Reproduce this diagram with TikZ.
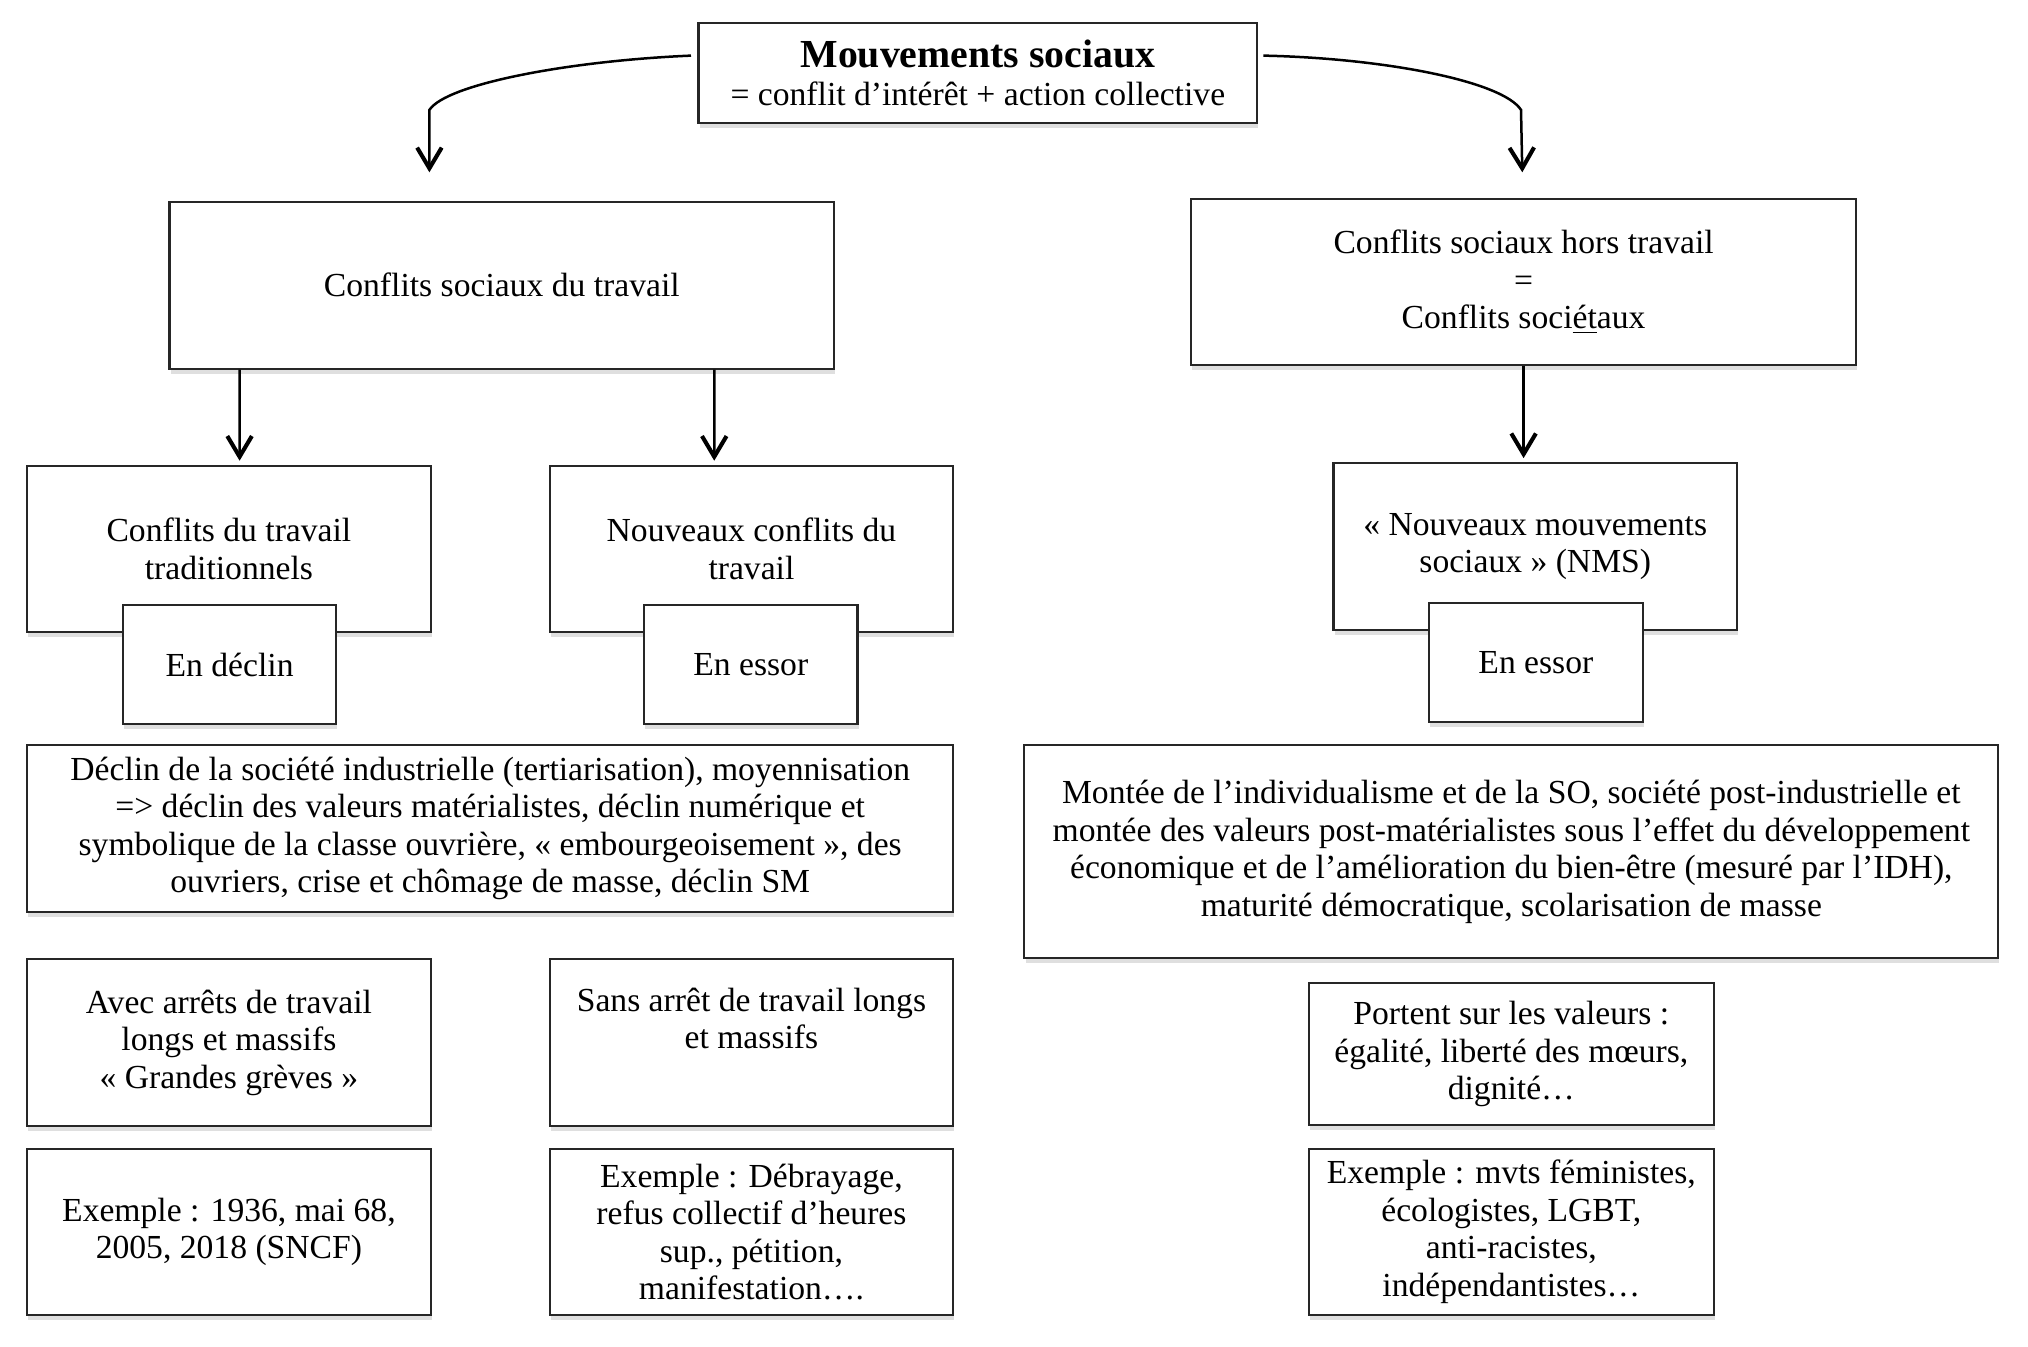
\documentclass[tikz,border=0pt]{standalone}
\usepackage{fontspec}
\setmainfont{Liberation Serif}
\usetikzlibrary{calc,arrows.meta,shadows}
\definecolor{boxline}{HTML}{262626}

\begin{document}
\begin{tikzpicture}[x=0.02cm, y=-0.02cm,
    >={Straight Barb[length=3.2mm, width=3.8mm, line width=1.8pt]},
    box/.style={draw=boxline, line width=0.9pt, fill=white, align=center, inner sep=0pt,
        font=\fontsize{14.8}{16.5}\selectfont,
        drop shadow={shadow xshift=0.5pt, shadow yshift=-2.2pt, opacity=0.25}},
    smallbox/.style={box, minimum width=6.24cm, minimum height=2.58cm},
    tagbox/.style={box, minimum width=3.3cm, minimum height=1.84cm},
    arr/.style={->, line width=1.1pt}]
    \useasboundingbox (0,0) rectangle (1568,1041);

    % Title
    \node[box, drop shadow={opacity=0}, minimum width=8.64cm, minimum height=1.54cm] (mvt) at (756,56.5)
        {{\fontsize{17.5}{18}\bfseries Mouvements sociaux}\\= conflit d’intérêt + action collective};

    % Two families of conflicts
    \node[box, minimum width=10.28cm, minimum height=2.58cm] (travail) at (388,220.5) {Conflits sociaux du travail};
    \node[box, minimum width=10.28cm, minimum height=2.56cm] (hors) at (1178,218)
        {Conflits sociaux hors travail\\=\\Conflits soci\underline{ét}aux};

    \coordinate (tipL) at ($(travail.north)+(-56,-22)$);
    \coordinate (tipR) at ($(hors.north)+(-1,-20)$);
    \draw[arr] ($(mvt.west)+(-5,-13.5)$) .. controls (440,47) and (345,65) .. (332,85) -- (tipL);
    \draw[arr] ($(mvt.east)+(4,-13.5)$) .. controls (1071,45) and (1162,63) .. (1176,85) -- (tipR);

    % Second level
    \node[smallbox] (trad) at (177,424.5) {Conflits du travail\\traditionnels};
    \node[smallbox] (nouv) at (581,424.5) {Nouveaux conflits du\\travail};
    \node[smallbox] (nms) at (1187,422.5) {« Nouveaux mouvements\\sociaux » (NMS)};

    \node[tagbox] (declin) at (177.5,514) {En déclin};
    \node[tagbox] (essor) at (580.5,514) {En essor};
    \node[tagbox] (essornms) at (1187.5,512) {En essor};

    \draw[arr] ($(travail.south west)+(55,0)$) -- ($(trad.north west)+(165,-3)$);
    \draw[arr] ($(travail.south west)+(422,0)$) -- ($(nouv.north west)+(128,-3)$);
    \draw[arr] (hors.south) -- ($(nms.north)+(-9,-3)$);

    % Causes
    \node[box, minimum width=14.32cm, minimum height=2.58cm] (causeL) at (379,640.5)
        {Déclin de la société industrielle (tertiarisation), moyennisation\\
         => déclin des valeurs matérialistes, déclin numérique et\\
         symbolique de la classe ouvrière, « embourgeoisement », des\\
         ouvriers, crise et chômage de masse, déclin SM};
    \node[box, minimum width=15.06cm, minimum height=3.3cm] (causeR) at (1168.5,658.5)
        {Montée de l’individualisme et de la SO, société post-industrielle et\\
         montée des valeurs post-matérialistes sous l’effet du développement\\
         économique et de l’amélioration du bien-être (mesuré par l’IDH),\\
         maturité démocratique, scolarisation de masse};

    % Forms and examples
    \node[smallbox] (avec) at (177,806) {Avec arrêts de travail\\longs et massifs\\« Grandes grèves »};
    \node[smallbox] (sans) at (581,806) {Sans arrêt de travail longs\\et massifs\\\strut};
    \node[box, minimum width=6.26cm, minimum height=2.2cm] (valeurs) at (1168.5,815)
        {Portent sur les valeurs :\\égalité, liberté des mœurs,\\dignité…};

    \node[smallbox] (ex1) at (177,952.5) {Exemple : 1936, mai 68,\\2005, 2018 (SNCF)};
    \node[smallbox] (ex2) at (581,952.5) {Exemple : Débrayage,\\refus collectif d’heures\\sup., pétition,\\manifestation….};
    \node[box, minimum width=6.26cm, minimum height=2.58cm] (ex3) at (1168.5,952.5)
        {Exemple : mvts féministes,\\écologistes, LGBT,\\anti-racistes,\\indépendantistes…};
\end{tikzpicture}
\end{document}
